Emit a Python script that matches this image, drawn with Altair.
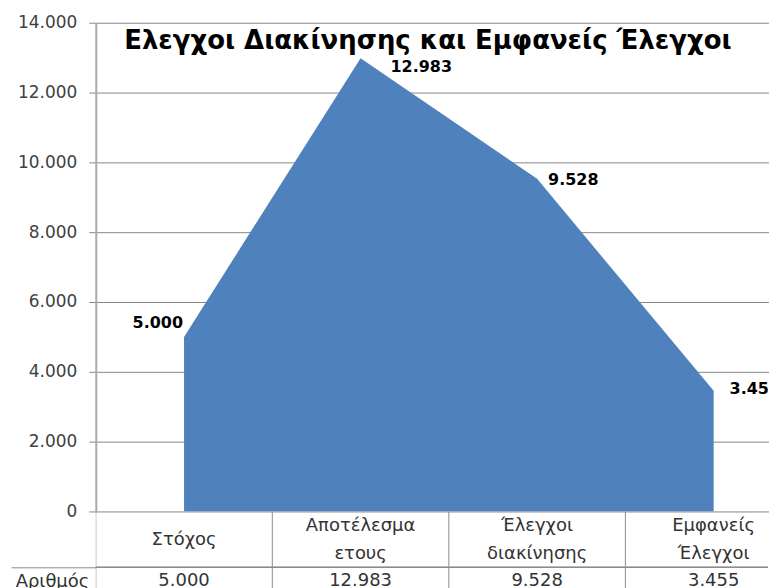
import altair as alt
import pandas as pd

# ---- data ----
categories = ["Στόχος", "Αποτέλεσμα ετους", "Έλεγχοι διακίνησης", "Εμφανείς Έλεγχοι"]
category_text = ["Στόχος", "Αποτέλεσμα\nετους", "Έλεγχοι\nδιακίνησης", "Εμφανείς\nΈλεγχοι"]
values = [5000, 12983, 9528, 3455]
y_ticks = [0, 2000, 4000, 6000, 8000, 10000, 12000, 14000]
series_name = "Αριθμός"
title_text = "Ελεγχοι Διακίνησης και Εμφανείς Έλεγχοι"

df = pd.DataFrame({
    "cat": categories,
    "cat_text": category_text,
    "value": values,
    "series": [series_name] * len(categories),
})

FMT = "replace(format(datum.value, ','), ',', '.')"
FONT = "DejaVu Sans"
GRID = "#868686"
TABLE = "#8c8c8c"
TXT = "#333333"
W = 674          # visible plot width (the chart is cut at the window edge)
BAND_RANGE = 708  # full width of the four category bands

xband = alt.Scale(type="band", domain=categories, paddingInner=0, paddingOuter=0,
                  range=[0, BAND_RANGE])

base = alt.Chart(df).transform_calculate(label=FMT)

x_center = alt.X("cat:N", scale=xband, sort=categories, axis=None, bandPosition=0.5)
x_start = alt.X("cat:N", scale=xband, sort=categories, axis=None, bandPosition=0)
y_val = alt.Y(
    "value:Q",
    scale=alt.Scale(domain=[0, 14000], nice=False, zero=True),
    axis=alt.Axis(
        values=y_ticks, labelExpr=FMT, title=None,
        grid=True, gridColor=GRID, gridWidth=1,
        tickColor=GRID, tickSize=7,
        domainColor="#a9a9a9", domainWidth=2,
        labelFont=FONT, labelFontSize=17, labelColor="#404040", labelPadding=12,
    ),
)

area = base.mark_area(color="#4f81bd", opacity=1, clip=True).encode(x=x_center, y=y_val)


def value_label(cat, dx, dy, align):
    return base.transform_filter(alt.datum.cat == cat).mark_text(
        align=align, baseline="middle", dx=dx, dy=dy, clip=True,
        font=FONT, fontWeight="bold", fontSize=16, color="#000000",
    ).encode(x=x_center, y=alt.Y("value:Q"), text="label:N")


top = alt.layer(
    area,
    value_label(categories[0], -1, -14, "right"),
    value_label(categories[1], 30, 9, "left"),
    value_label(categories[2], 11, 1, "left"),
    value_label(categories[3], 16, -2, "left"),
).properties(
    width=W, height=490,
    title=alt.TitleParams(
        title_text, font=FONT, fontSize=26, fontWeight="bold", color="#000000",
        anchor="middle", dx=-4, offset=-40,
    ),
)

multi = "indexof(datum.cat_text, '\\n') >= 0"
cat_row = alt.layer(
    base.transform_filter(multi).mark_text(
        lineBreak="\n", font=FONT, fontSize=18, color=TXT, lineHeight=28,
        baseline="middle", dy=-13, clip=True,
    ).encode(x=x_center, text="cat_text:N"),
    base.transform_filter("!(" + multi + ")").mark_text(
        font=FONT, fontSize=18, color=TXT, baseline="middle", dy=1, clip=True,
    ).encode(x=x_center, text="cat_text:N"),
    base.mark_rule(color=TABLE, clip=True).encode(x=x_start),
).properties(width=W, height=56)

y_row = alt.Y("series:N", axis=alt.Axis(
    title=None, domain=False, tickBand="extent", tickSize=85, tickColor=TABLE,
    labelPadding=-78, labelFont=FONT, labelFontSize=18, labelColor=TXT,
))
val_row = alt.layer(
    base.mark_text(font=FONT, fontSize=18, color=TXT, baseline="middle", clip=True).encode(
        x=x_center, text="label:N", y=y_row,
    ),
    base.mark_rule(color=TABLE, clip=True).encode(x=x_start),
    base.mark_rule(color=TABLE).encode(y=alt.Y("series:N", bandPosition=0)),
).properties(width=W, height=28)

chart = alt.vconcat(top, cat_row, val_row, spacing=0, bounds="flush").resolve_scale(
    x="independent", y="independent"
).properties(
    padding={"left": 2, "top": 5, "right": 0, "bottom": 0},
).configure_view(stroke=None)

chart.save("out.html", embed_options={"renderer": "svg", "actions": False})
